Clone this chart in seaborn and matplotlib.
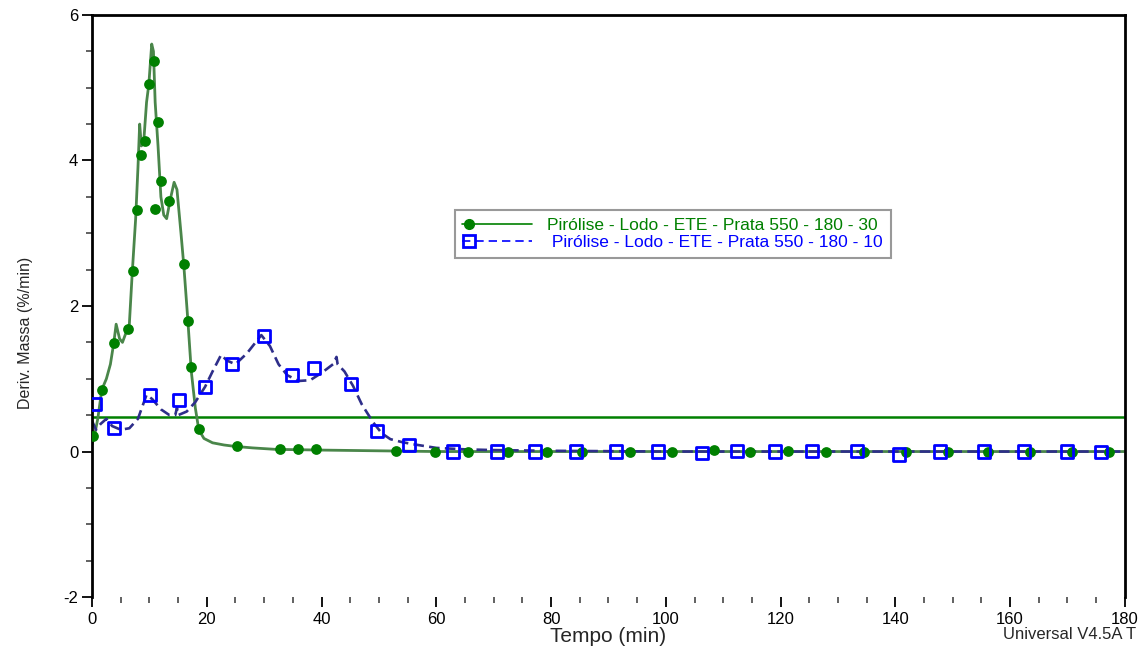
import numpy as np
import pandas as pd
import matplotlib
matplotlib.use("Agg")
import matplotlib.pyplot as plt
import seaborn as sns
from matplotlib.lines import Line2D
from matplotlib.legend_handler import HandlerLine2D
from matplotlib.ticker import MultipleLocator

# ---- data ----
green_curve_x = [0, 0.5, 1.0, 1.7, 2.5, 3.2, 3.8, 4.2, 4.8, 5.3, 6.0, 6.5, 7.0, 7.6, 8.0, 8.3,
                 8.6, 9.0, 9.5, 9.9, 10.4, 10.7, 11.0, 11.5, 12.0, 12.5, 13.0, 13.6, 14.3, 14.8,
                 15.5, 16.0, 16.7, 17.3, 18.0, 18.6, 19.5, 21, 23, 25, 28, 32, 36, 40, 45, 50,
                 55, 60, 180]
green_curve_y = [0.1, 0.25, 0.45, 0.85, 1.0, 1.2, 1.5, 1.75, 1.55, 1.5, 1.65, 1.75, 2.45, 3.2,
                 3.9, 4.5, 4.2, 4.25, 4.8, 5.05, 5.6, 5.5, 4.8, 4.2, 3.5, 3.25, 3.2, 3.45, 3.7,
                 3.6, 3.0, 2.55, 1.8, 1.1, 0.6, 0.3, 0.18, 0.12, 0.09, 0.07, 0.05, 0.03, 0.025,
                 0.02, 0.015, 0.01, 0.005, 0.0, 0.0]

green_mark_x = [0.2, 1.7, 3.8, 6.3, 7.1, 7.8, 8.5, 9.2, 9.9, 10.8, 11.0, 11.5, 12.0, 13.4, 16.0,
                16.7, 17.3, 18.6, 25.3, 32.8, 35.9, 39.0, 53.0, 59.8, 65.5, 72.5, 79.3, 85.4,
                93.7, 101.0, 108.4, 114.7, 121.3, 127.9, 134.5, 141.8, 149.2, 156.1, 163.4,
                170.8, 177.2]
green_mark_y = [0.22, 0.85, 1.49, 1.68, 2.48, 3.32, 4.08, 4.27, 5.05, 5.37, 3.33, 4.53, 3.72,
                3.44, 2.58, 1.80, 1.16, 0.31, 0.08, 0.03, 0.03, 0.03, 0.01, 0.0, 0.0, 0.0, 0.0,
                0.0, 0.0, 0.0, 0.02, 0.0, 0.01, 0.0, 0.0, 0.0, 0.0, 0.0, 0.0, 0.0, -0.01]

blue_curve_x = [0, 0.7, 1.5, 2.5, 3.5, 5, 6.5, 8, 9.5, 10.5, 12, 13.5, 14.5, 14.8, 15.0, 16.5,
                18, 19.7, 21, 22.5, 23.5, 25, 27, 29.5, 31, 32.5, 34, 36, 38, 40, 42, 42.6,
                42.8, 44, 45.5, 47, 49, 50.5, 52, 54, 56, 60, 65, 70, 80, 100, 180]
blue_curve_y = [0.42, 0.3, 0.38, 0.45, 0.35, 0.3, 0.32, 0.45, 0.78, 0.72, 0.58, 0.5, 0.5, 0.6,
                0.5, 0.55, 0.68, 0.89, 1.1, 1.33, 1.25, 1.2, 1.35, 1.6, 1.45, 1.2, 1.05, 0.97,
                0.98, 1.08, 1.2, 1.3, 1.2, 1.1, 0.9, 0.65, 0.4, 0.25, 0.17, 0.13, 0.1, 0.05,
                0.03, 0.02, 0.01, 0.0, 0.0]

blue_mark_x = [0.5, 3.8, 10.1, 15.2, 19.7, 24.4, 30.0, 34.8, 38.7, 45.1, 49.7, 55.2, 62.9,
               70.6, 77.2, 84.3, 91.3, 98.6, 106.3, 112.4, 119.0, 125.5, 133.3, 140.6, 147.8,
               155.4, 162.4, 169.9, 175.8]
blue_mark_y = [0.65, 0.32, 0.78, 0.71, 0.89, 1.20, 1.59, 1.05, 1.15, 0.93, 0.28, 0.09, 0.0,
               0.0, 0.0, 0.0, 0.0, 0.0, -0.02, 0.01, 0.0, 0.01, 0.01, -0.04, 0.0, 0.0, 0.0,
               0.0, -0.01]

ref_level = 0.48

label_green = "Pirólise - Lodo - ETE - Prata 550 - 180 - 30"
label_blue = " Pirólise - Lodo - ETE - Prata 550 - 180 - 10"
x_ticks = [0, 20, 40, 60, 80, 100, 120, 140, 160, 180]
y_ticks = [-2, 0, 2, 4, 6]

# ---- style ----
sns.set_theme(style="white")
plt.rcParams['font.family'] = ['Liberation Sans', 'DejaVu Sans']
plt.rcParams['axes.unicode_minus'] = False

fig = plt.figure(figsize=(11.42, 6.49), dpi=100)
ax = fig.add_axes([0.0806, 0.080, 0.9044, 0.897])

GREEN_LINE = '#4a864a'
GREEN_MK = '#008000'
BLUE_LINE = '#2e2e8a'
BLUE_MK = '#0000ff'

ax.axhline(ref_level, color=GREEN_MK, lw=1.8, zorder=1)

sns.lineplot(x=green_curve_x, y=green_curve_y, ax=ax, color=GREEN_LINE, lw=2.0,
             sort=False, estimator=None, zorder=2)
sns.lineplot(x=blue_curve_x, y=blue_curve_y, ax=ax, color=BLUE_LINE, lw=1.9,
             sort=False, estimator=None, zorder=2, dashes=False)
ax.lines[-1].set_dashes([4, 2])

sns.scatterplot(x=green_mark_x, y=green_mark_y, ax=ax, marker='o', s=60,
                color=GREEN_MK, edgecolor=GREEN_MK, linewidth=0, zorder=4)
sns.scatterplot(x=blue_mark_x, y=blue_mark_y, ax=ax, marker='s', s=80,
                facecolor='none', edgecolor=BLUE_MK, linewidth=2, zorder=5)

ax.set_xlim(0, 180)
ax.set_ylim(-2, 6)
ax.set_xticks(x_ticks)
ax.set_yticks(y_ticks)
ax.xaxis.set_minor_locator(MultipleLocator(5))
ax.yaxis.set_minor_locator(MultipleLocator(0.5))
ax.tick_params(axis='both', which='major', direction='out', length=7, width=1.3,
               color='black', labelsize=12, labelcolor='black')
ax.tick_params(axis='both', which='minor', direction='out', length=4, width=1.3, color='#555555')
ax.tick_params(axis='x', which='both', bottom=True, pad=4)
ax.tick_params(axis='y', which='both', left=True, pad=3)

for s in ['top', 'left', 'right']:
    ax.spines[s].set_visible(True)
    ax.spines[s].set_color('black')
    ax.spines[s].set_linewidth(2)
ax.spines['bottom'].set_visible(False)

ax.set_xlabel("Tempo (min)", fontsize=15, va='top')
ax.xaxis.set_label_coords(0.5, -0.052)
ax.set_ylabel("Deriv. Massa (%/min)", fontsize=11.5)
ax.yaxis.set_label_coords(-0.057, 0.454)


class LeftMarkerHandler(HandlerLine2D):
    def create_artists(self, legend, orig_handle, xdescent, ydescent, width, height,
                       fontsize, trans):
        y = (height - ydescent) / 2
        line = Line2D([-xdescent, -xdescent + width], [y, y])
        self.update_prop(line, orig_handle, legend)
        line.set_marker('None')
        line.set_transform(trans)
        mk = Line2D([-xdescent + 5], [y])
        self.update_prop(mk, orig_handle, legend)
        mk.set_linestyle('None')
        mk.set_transform(trans)
        return [line, mk]


h1 = Line2D([], [], color=GREEN_MK, lw=1.2, marker='o', markersize=7,
            markerfacecolor=GREEN_MK, markeredgecolor=GREEN_MK)
h2 = Line2D([], [], color=BLUE_MK, lw=1.2, ls=(0, (5, 3)), marker='s', markersize=8,
            markerfacecolor='none', markeredgecolor=BLUE_MK, markeredgewidth=2)
leg = ax.legend([h1, h2], [label_green, label_blue], loc='upper left',
                bbox_to_anchor=(0.351, 0.665), borderaxespad=0, fontsize=12.5,
                frameon=True, fancybox=False, handlelength=4.0, handletextpad=0.9,
                borderpad=0.45, labelspacing=0.12,
                handler_map={Line2D: LeftMarkerHandler()})
leg.get_frame().set_edgecolor('#808080')
leg.get_frame().set_linewidth(1.5)
leg.get_texts()[0].set_color(GREEN_MK)
leg.get_texts()[1].set_color(BLUE_MK)

fig.text(0.995, 0.011, "Universal V4.5A T", ha='right', va='bottom', fontsize=12)

fig.savefig("out.png", dpi=100)
